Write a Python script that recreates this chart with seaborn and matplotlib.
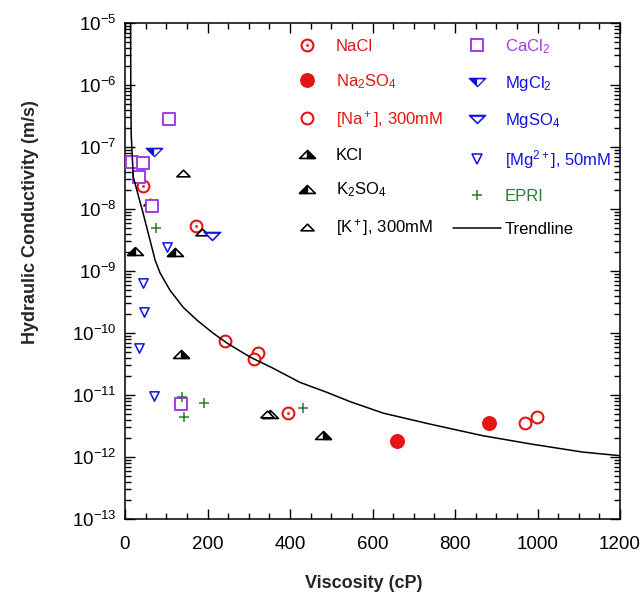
import numpy as np
import pandas as pd
import matplotlib
matplotlib.use("Agg")
import matplotlib.pyplot as plt
from matplotlib.path import Path
from matplotlib.lines import Line2D
import matplotlib.ticker as mticker
import seaborn as sns

# ---------------- data ----------------
nacl_x = [43, 171, 396]
nacl_y = [2.35e-8, 5.3e-9, 5.1e-12]
na2so4_x = [660, 882]
na2so4_y = [1.8e-12, 3.5e-12]
na300_x = [242, 322, 313, 970, 998]
na300_y = [7.4e-11, 4.8e-11, 3.8e-11, 3.6e-12, 4.5e-12]
kcl_x = [136, 479]
kcl_y = [4.6e-11, 2.3e-12]
k2so4_x = [24, 121, 352]
k2so4_y = [2.1e-9, 2.0e-9, 5.0e-12]
k300_x = [141, 61, 186, 345]
k300_y = [3.8e-8, 1.3e-8, 4.3e-9, 5.0e-12]
cacl2_x = [107, 18, 44, 35, 65, 136]
cacl2_y = [2.8e-7, 5.8e-8, 5.6e-8, 3.3e-8, 1.12e-8, 7.2e-12]
mgcl2_x = [71]
mgcl2_y = [8.4e-8]
mgso4_x = [212]
mgso4_y = [3.7e-9]
mg50_x = [101, 44, 47, 35, 71]
mg50_y = [2.4e-9, 6.5e-10, 2.2e-10, 5.7e-11, 9.6e-12]
epri_x = [75, 137, 192, 143, 431]
epri_y = [4.9e-9, 9.2e-12, 7.3e-12, 4.4e-12, 6.1e-12]
trend_x = [13.5, 14, 15, 20, 44, 73, 85, 109, 141, 175, 213, 247, 303, 359,
           424, 490, 546, 626, 739, 868, 989, 1110, 1200]
trend_y = [1e-5, 1e-6, 1.6e-7, 3.3e-8, 8.5e-9, 1.5e-9, 9.3e-10, 4.9e-10,
           2.6e-10, 1.6e-10, 1.0e-10, 6.9e-11, 4.1e-11, 2.7e-11, 1.6e-11,
           1.1e-11, 7.8e-12, 5.1e-12, 3.4e-12, 2.2e-12, 1.6e-12, 1.2e-12,
           1.05e-12]

labels = ["NaCl", "Na$_2$SO$_4$", "[Na$^+$], 300mM", "KCl", "K$_2$SO$_4$",
          "[K$^+$], 300mM", "CaCl$_2$", "MgCl$_2$", "MgSO$_4$",
          "[Mg$^{2+}$], 50mM", "EPRI", "Trendline"]

# ---------------- style ----------------
sns.set_theme(style="white")
plt.rcParams["font.family"] = ["Liberation Sans", "DejaVu Sans"]
plt.rcParams["mathtext.fontset"] = "custom"
plt.rcParams["mathtext.rm"] = "Liberation Sans"
plt.rcParams["mathtext.it"] = "Liberation Sans:italic"
plt.rcParams["mathtext.bf"] = "Liberation Sans:bold"
plt.rcParams["mathtext.default"] = "regular"

RED = "#E41414"
PURPLE = "#A23CE6"
BLUE = "#1212E0"
GREEN = "#2A7A30"
BLACK = "black"

H = 0.5
C = [Path.MOVETO, Path.LINETO, Path.LINETO, Path.CLOSEPOLY]
UP_FULL = Path([(-1, -H), (1, -H), (0, H), (-1, -H)], C)
UP_LEFT = Path([(-1, -H), (0, -H), (0, H), (-1, -H)], C)
UP_RIGHT = Path([(0, -H), (1, -H), (0, H), (0, -H)], C)
DN_FULL = Path([(-1, H), (1, H), (0, -H), (-1, H)], C)
DN_RIGHT = Path([(0, H), (1, H), (0, -H), (0, H)], C)

fig = plt.figure(figsize=(6.43, 6.05), dpi=100)
ax = fig.add_axes([125 / 643, 1 - 519 / 605, 495 / 643, 496 / 605])


def sc(x, y, marker, s, fc, ec, lw=1.2, z=3):
    sns.scatterplot(x=x, y=y, ax=ax, marker=marker, s=s, facecolor=fc,
                    edgecolor=ec, linewidth=lw, legend=False, zorder=z)


# NaCl (open circle with centre dot)
sc(nacl_x, nacl_y, "o", 72, "white", RED, 1.5)
sc(nacl_x, nacl_y, "o", 3, RED, RED, 0.3)
# Na2SO4
sc(na2so4_x, na2so4_y, "o", 95, RED, RED, 1.0)
# [Na+] 300 mM
sc(na300_x, na300_y, "o", 72, "white", RED, 1.5)
# KCl (right half black)
sc(kcl_x, kcl_y, UP_FULL, 130, "white", BLACK, 1.2)
sc(kcl_x, kcl_y, UP_RIGHT, 130, BLACK, BLACK, 1.0)
# K2SO4 (left half black)
sc(k2so4_x, k2so4_y, UP_FULL, 130, "white", BLACK, 1.2)
sc(k2so4_x, k2so4_y, UP_LEFT, 130, BLACK, BLACK, 1.0)
# [K+] 300 mM
sc(k300_x, k300_y, UP_FULL, 90, "white", BLACK, 1.2)
# CaCl2
sc(cacl2_x, cacl2_y, "s", 80, "white", PURPLE, 1.4)
# MgCl2
sc(mgcl2_x, mgcl2_y, DN_FULL, 140, BLUE, BLUE, 1.0)
sc(mgcl2_x, mgcl2_y, DN_RIGHT, 60, "white", "white", 0.5)
# MgSO4
sc(mgso4_x, mgso4_y, DN_FULL, 140, BLUE, BLUE, 1.0)
sc(mgso4_x, mgso4_y, DN_FULL, 45, "white", "white", 0.5)
# [Mg2+] 50 mM
sc(mg50_x, mg50_y, "v", 45, "white", BLUE, 1.1)
# EPRI
sns.scatterplot(x=epri_x, y=epri_y, ax=ax, marker="+", s=60, color=GREEN,
                linewidth=1.1, legend=False, zorder=3)
# Trendline
sns.lineplot(x=trend_x, y=trend_y, ax=ax, color=BLACK, linewidth=1.1,
             sort=False, estimator=None, zorder=4)

# ---------------- axes ----------------
ax.set_yscale("log")
ax.set_xlim(0, 1200)
ax.set_ylim(1e-13, 1e-5)
ax.xaxis.set_major_locator(mticker.MultipleLocator(200))
ax.xaxis.set_minor_locator(mticker.MultipleLocator(50))
ax.yaxis.set_major_locator(mticker.LogLocator(base=10, numticks=20))
ax.yaxis.set_minor_locator(mticker.LogLocator(base=10, subs=np.arange(2, 10), numticks=20))
ax.yaxis.set_minor_formatter(mticker.NullFormatter())
ax.grid(False)
for sp in ax.spines.values():
    sp.set_color("black")
    sp.set_linewidth(1.1)
ax.tick_params(which="both", direction="in", top=True, right=True,
               bottom=True, left=True, colors="black", width=1.0)
ax.tick_params(which="major", length=7, labelsize=13.5)
ax.tick_params(which="minor", length=4)
ax.tick_params(axis="x", which="major", pad=12)
ax.tick_params(axis="y", which="major", pad=6)

ax.set_xlabel("Viscosity (cP)", fontsize=13, fontweight="bold")
ax.set_ylabel("Hydraulic Conductivity (m/s)", fontsize=13, fontweight="bold")
ax.xaxis.set_label_coords((364 - 125) / 495, (519 - 575) / 496)
ax.yaxis.set_label_coords((39 - 125) / 495, (519 - 222) / 496)

# ---------------- legend ----------------
def L(marker, ms, fc, ec, mew=1.2, **kw):
    return Line2D([], [], ls="none", marker=marker, markersize=ms,
                  markerfacecolor=fc, markeredgecolor=ec, markeredgewidth=mew, **kw)

handles = [
    (L("o", 8.5, "white", RED, 1.5), L("o", 1.7, RED, RED, 0.3)),
    L("o", 9.7, RED, RED, 1.0),
    L("o", 8.5, "white", RED, 1.5),
    (L(UP_FULL, 11.4, "white", BLACK), L(UP_RIGHT, 11.4, BLACK, BLACK, 1.0)),
    (L(UP_FULL, 11.4, "white", BLACK), L(UP_LEFT, 11.4, BLACK, BLACK, 1.0)),
    L(UP_FULL, 9.5, "white", BLACK),
    L("s", 8.9, "white", PURPLE, 1.4),
    (L(DN_FULL, 11.8, BLUE, BLUE, 1.0), L(DN_RIGHT, 7.7, "white", "white", 0.5)),
    (L(DN_FULL, 11.8, BLUE, BLUE, 1.0), L(DN_FULL, 6.7, "white", "white", 0.5)),
    L("v", 6.7, "white", BLUE, 1.1),
    L("+", 7.7, GREEN, GREEN, 1.1),
    Line2D([], [], color=BLACK, linewidth=1.1),
]
text_colors = [RED, RED, RED, BLACK, BLACK, BLACK, PURPLE, BLUE, BLUE, BLUE,
               GREEN, BLACK]
leg = ax.legend(handles, labels, ncol=2, loc="upper left",
                bbox_to_anchor=(283 / 643, 1 - 37 / 605),
                bbox_transform=fig.transFigure, frameon=False, fontsize=12,
                numpoints=1, handlelength=2.9, handletextpad=0.25,
                columnspacing=0.6, labelspacing=1.08, borderpad=0,
                borderaxespad=0)
for t, c in zip(leg.get_texts(), text_colors):
    t.set_color(c)

fig.savefig("out.png", dpi=100)
